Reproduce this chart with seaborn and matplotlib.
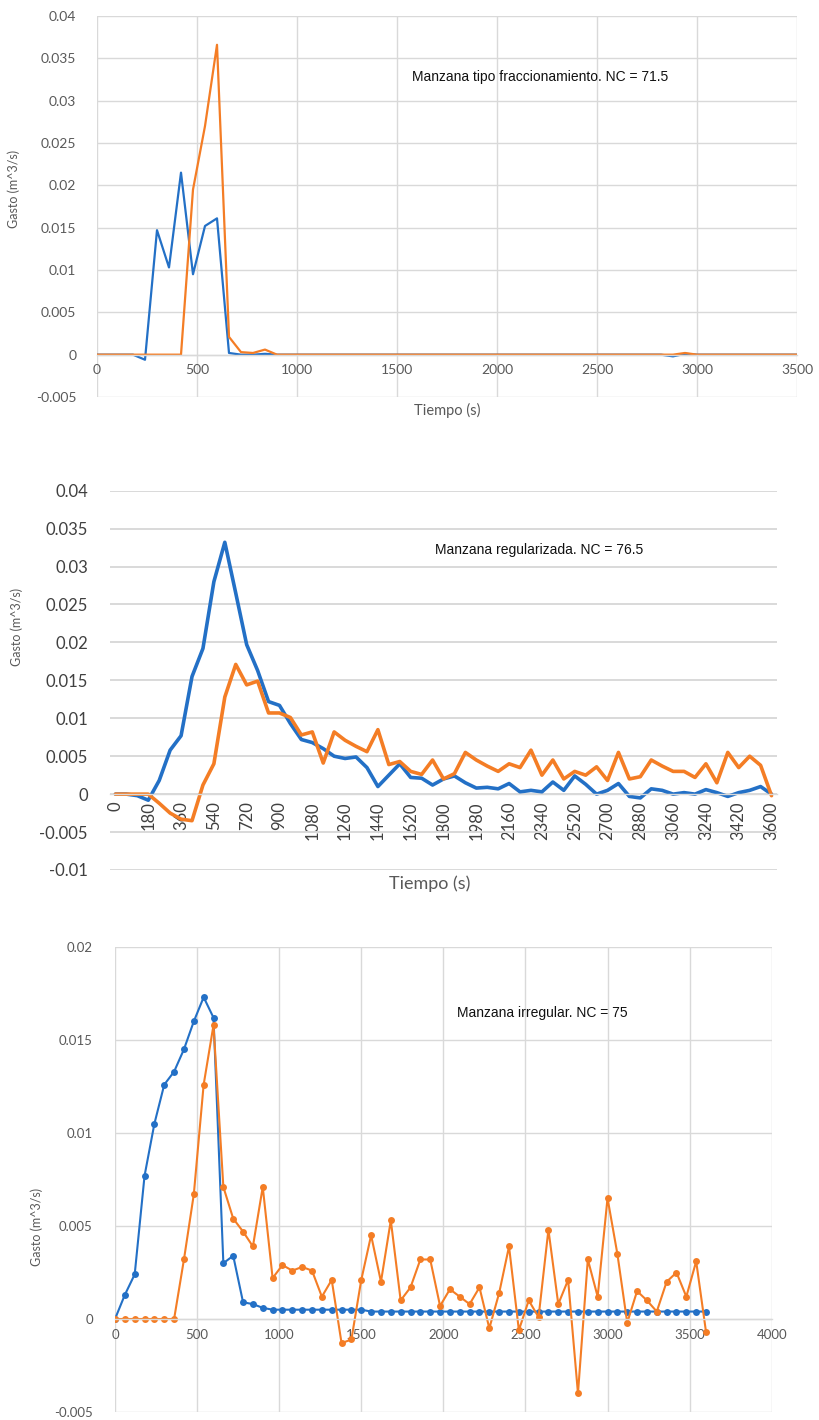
import numpy as np
import pandas as pd
import matplotlib
matplotlib.use("Agg")
import matplotlib.pyplot as plt
from matplotlib.ticker import FuncFormatter, MultipleLocator
import seaborn as sns

sns.set_theme(style="white")
plt.rcParams["font.family"] = ["Lato", "DejaVu Sans"]

BLUE = "#2370C6"
ORANGE = "#F47D25"
GRID = "#D9D9D9"
TICK = "#595959"

# ---- time axis (s), one reading every 60 s ----
tiempo = np.arange(0, 3601, 60)

# ---- Manzana tipo fraccionamiento, NC = 71.5 ----
frac_azul = [
    0, 0, 0, 0, -0.0006, 0.0147, 0.0103, 0.0215, 0.0095, 0.0152,
    0.0161, 0.0002, 0, 0, 0.0001, 0, 0, 0, 0, 0,
    0, 0, 0, 0, 0, 0, 0, 0, 0, 0,
    0, 0, 0, 0, 0, 0, 0, 0, 0, 0,
    0, 0, 0, 0, 0, 0, 0, 0, -0.0002, 0.0001,
    0, 0, 0, 0, 0, 0, 0, 0, 0, 0,
    0,
]
frac_naranja = [
    0, 0, 0, 0, 0, 0, 0, 0, 0.0195, 0.0270,
    0.0366, 0.0021, 0.0003, 0.0002, 0.0006, 0, 0, 0, 0, 0,
    0, 0, 0, 0, 0, 0, 0, 0, 0, 0,
    0, 0, 0, 0, 0, 0, 0, 0, 0, 0,
    0, 0, 0, 0, 0, 0, 0, 0, 0, 0.0002,
    0, 0, 0, 0, 0, 0, 0, 0, 0, 0,
    0,
]

# ---- Manzana regularizada, NC = 76.5 ----
reg_azul = [
    0, 0, -0.0002, -0.0008, 0.0018, 0.0058, 0.0077, 0.0155, 0.0192, 0.0280,
    0.0332, 0.0265, 0.0197, 0.0163, 0.0122, 0.0117, 0.0093, 0.0072, 0.0068, 0.0060,
    0.0050, 0.0047, 0.0049, 0.0035, 0.0010, 0.0025, 0.0040, 0.0022, 0.0021, 0.0012,
    0.0020, 0.0024, 0.0015, 0.0008, 0.0009, 0.0007, 0.0014, 0.0003, 0.0005, 0.0003,
    0.0016, 0.0005, 0.0024, 0.0013, 0.0000, 0.0005, 0.0014, -0.0003, -0.0005, 0.0007,
    0.0005, 0.0000, 0.0002, 0.0000, 0.0006, 0.0002, -0.0003, 0.0002, 0.0005, 0.0010,
    0.0000,
]
reg_naranja = [
    0, 0, 0, 0, -0.0012, -0.0025, -0.0033, -0.0035, 0.0012, 0.0040,
    0.0128, 0.0171, 0.0144, 0.0149, 0.0107, 0.0107, 0.0101, 0.0078, 0.0082, 0.0041,
    0.0082, 0.0071, 0.0063, 0.0056, 0.0085, 0.0039, 0.0043, 0.0030, 0.0026, 0.0045,
    0.0020, 0.0027, 0.0055, 0.0045, 0.0037, 0.0030, 0.0040, 0.0035, 0.0058, 0.0025,
    0.0045, 0.0020, 0.0030, 0.0025, 0.0036, 0.0018, 0.0055, 0.0020, 0.0023, 0.0045,
    0.0037, 0.0030, 0.0030, 0.0022, 0.0040, 0.0015, 0.0055, 0.0035, 0.0050, 0.0038,
    -0.0002,
]
reg_etiquetas = [str(t) for t in range(0, 3601, 180)]

# ---- Manzana irregular, NC = 75 ----
irr_azul = [
    0, 0.0013, 0.0024, 0.0077, 0.0105, 0.0126, 0.0133, 0.0145, 0.0160, 0.0173,
    0.0162, 0.0030, 0.0034, 0.0009, 0.0008, 0.0006, 0.0005, 0.0005, 0.0005, 0.0005,
    0.0005, 0.0005, 0.0005, 0.0005, 0.0005, 0.0005, 0.0004, 0.0004, 0.0004, 0.0004,
    0.0004, 0.0004, 0.0004, 0.0004, 0.0004, 0.0004, 0.0004, 0.0004, 0.0004, 0.0004,
    0.0004, 0.0004, 0.0004, 0.0004, 0.0004, 0.0004, 0.0004, 0.0004, 0.0004, 0.0004,
    0.0004, 0.0004, 0.0004, 0.0004, 0.0004, 0.0004, 0.0004, 0.0004, 0.0004, 0.0004,
    0.0004,
]
irr_naranja = [
    0, 0, 0, 0, 0, 0, 0, 0.0032, 0.0067, 0.0126,
    0.0158, 0.0071, 0.0054, 0.0047, 0.0039, 0.0071, 0.0022, 0.0029, 0.0026, 0.0028,
    0.0026, 0.0012, 0.0021, -0.0013, -0.0011, 0.0021, 0.0045, 0.0020, 0.0053, 0.0010,
    0.0017, 0.0032, 0.0032, 0.0007, 0.0016, 0.0012, 0.0008, 0.0017, -0.0005, 0.0014,
    0.0039, -0.0006, 0.0010, 0.0001, 0.0048, 0.0008, 0.0021, -0.0040, 0.0032, 0.0012,
    0.0065, 0.0035, -0.0002, 0.0015, 0.0010, 0.0004, 0.0020, 0.0025, 0.0012, 0.0031,
    -0.0007,
]


def general_fmt(v, _pos=None):
    v = round(v, 4)
    if abs(v) < 1e-12:
        return "0"
    return f"{v:g}"


def tidy(ax):
    # the category axis sits on the zero line; moving the spine resets the ticks,
    # so this runs before any tick styling
    for side in ("top", "right", "left"):
        ax.spines[side].set_visible(False)
    ax.spines["bottom"].set_position(("data", 0))
    ax.spines["bottom"].set_color(GRID)
    ax.spines["bottom"].set_linewidth(1.0)
    ax.yaxis.set_major_formatter(FuncFormatter(general_fmt))
    ax.set_axisbelow(True)


fig = plt.figure(figsize=(8.2, 14.2), dpi=100)
W, H = 820.0, 1420.0


def axes_px(left, top, right, bottom):
    return fig.add_axes([left / W, 1 - bottom / H, (right - left) / W, (bottom - top) / H])


ANNOT_FONT = ["Liberation Sans", "DejaVu Sans"]

# ================= Panel 1 =================
ax1 = axes_px(97, 16, 797, 397)
df1 = pd.DataFrame({"t": tiempo, "azul": frac_azul, "naranja": frac_naranja})
sns.lineplot(data=df1, x="t", y="azul", ax=ax1, color=BLUE, lw=1.6)
sns.lineplot(data=df1, x="t", y="naranja", ax=ax1, color=ORANGE, lw=1.6)
tidy(ax1)
ax1.set_xlim(0, 3500)
ax1.set_ylim(-0.005, 0.04)
ax1.xaxis.set_major_locator(MultipleLocator(500))
ax1.yaxis.set_major_locator(MultipleLocator(0.005))
ax1.grid(True, color=GRID, lw=1.0)
ax1.tick_params(axis="both", length=0, labelsize=10, labelcolor=TICK)
ax1.tick_params(axis="x", pad=7)
ax1.tick_params(axis="y", pad=15)
ax1.set_xlabel("Tiempo (s)", fontsize=10.5, color=TICK)
ax1.xaxis.set_label_coords(0.5, -0.015)
ax1.set_ylabel("Gasto (m^3/s)", fontsize=9, color=TICK)
ax1.yaxis.set_label_coords(-0.11, 0.545)
ax1.text(0.45, 0.841, "Manzana tipo fraccionamiento. NC = 71.5", transform=ax1.transAxes,
         family=ANNOT_FONT, fontsize=10, color="#111111", va="center")

# ================= Panel 2 =================
ax2 = axes_px(110, 490.7, 777, 870)
df2 = pd.DataFrame({"t": tiempo, "azul": reg_azul, "naranja": reg_naranja})
sns.lineplot(data=df2, x="t", y="azul", ax=ax2, color=BLUE, lw=2.6)
sns.lineplot(data=df2, x="t", y="naranja", ax=ax2, color=ORANGE, lw=2.6)
tidy(ax2)
ax2.set_xlim(-30, 3630)
ax2.set_ylim(-0.01, 0.04)
ax2.set_xticks([int(s) for s in reg_etiquetas])
ax2.set_xticklabels(reg_etiquetas)
ax2.yaxis.set_major_locator(MultipleLocator(0.005))
ax2.grid(True, axis="y", color=GRID, lw=1.4)
ax2.grid(False, axis="x")
ax2.tick_params(axis="both", length=0, labelsize=12, labelcolor="#404040")
ax2.tick_params(axis="x", pad=5, labelrotation=90)
ax2.tick_params(axis="y", pad=16)
ax2.set_xlabel("Tiempo (s)", fontsize=13, color=TICK)
ax2.xaxis.set_label_coords(0.48, -0.015)
ax2.set_ylabel("Gasto (m^3/s)", fontsize=9, color=TICK)
ax2.yaxis.set_label_coords(-0.13, 0.64)
ax2.text(0.487, 0.8437, "Manzana regularizada. NC = 76.5", transform=ax2.transAxes,
         family=ANNOT_FONT, fontsize=10, color="#111111", va="center")

# ================= Panel 3 =================
ax3 = axes_px(115, 947, 771.7, 1412)
df3 = pd.DataFrame({"t": tiempo, "azul": irr_azul, "naranja": irr_naranja})
sns.lineplot(data=df3, x="t", y="azul", ax=ax3, color=BLUE, lw=1.5,
             marker="o", markersize=5, markeredgewidth=0)
sns.lineplot(data=df3, x="t", y="naranja", ax=ax3, color=ORANGE, lw=1.5,
             marker="o", markersize=5, markeredgewidth=0)
tidy(ax3)
ax3.set_xlim(0, 4000)
ax3.set_ylim(-0.005, 0.02)
ax3.xaxis.set_major_locator(MultipleLocator(500))
ax3.yaxis.set_major_locator(MultipleLocator(0.005))
ax3.grid(True, color=GRID, lw=1.0)
ax3.tick_params(axis="both", length=0, labelsize=9.5, labelcolor=TICK)
ax3.tick_params(axis="x", pad=7)
ax3.tick_params(axis="y", pad=16)
ax3.set_xlabel("")
ax3.set_ylabel("Gasto (m^3/s)", fontsize=9, color=TICK)
ax3.yaxis.set_label_coords(-0.11, 0.398)
ax3.text(0.5208, 0.858, "Manzana irregular. NC = 75", transform=ax3.transAxes,
         family=ANNOT_FONT, fontsize=10, color="#111111", va="center")

fig.savefig("out.png", dpi=100, facecolor="white")
